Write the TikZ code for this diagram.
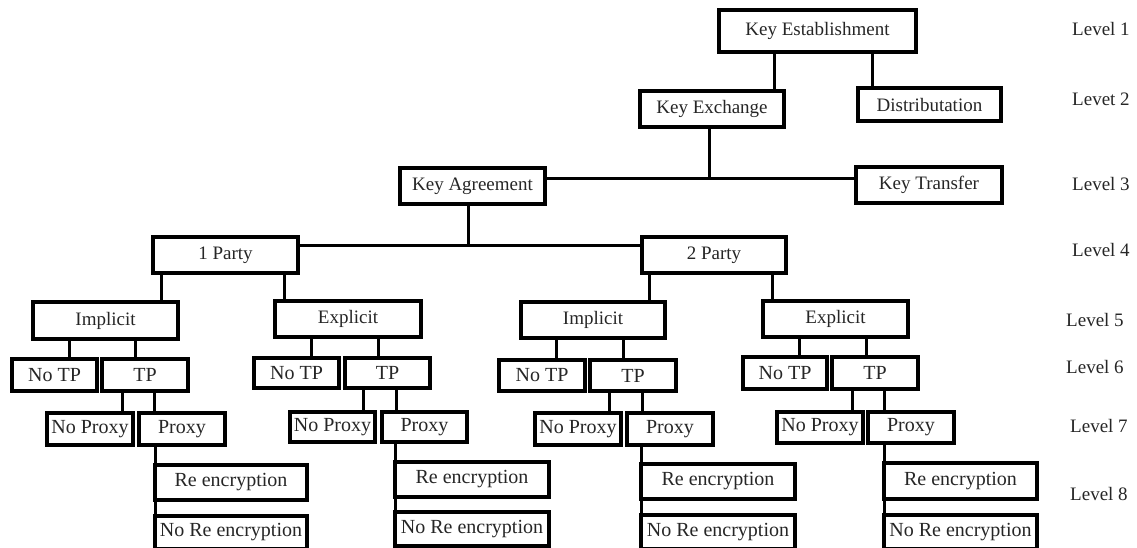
\documentclass[tikz,border=0pt]{standalone}
\usepackage{fontspec}
\setmainfont{Liberation Serif}
\newcommand\fsTop{\fontsize{19}{22}\selectfont}
\newcommand\fsLow{\fontsize{20}{23}\selectfont}
% style, name, x1, y1, x2, y2, text  (corner coordinates of the frame)
\newcommand\boxat[7]{%
  \node[#1, minimum width=\fpeval{#5-#3}pt, minimum height=\fpeval{#6-#4}pt]
    (#2) at (\fpeval{(#3+#5)/2}, \fpeval{(#4+#6)/2}) {#7};}
\begin{document}
\begin{tikzpicture}[x=1pt, y=-1pt,
  box/.style={draw=black, line width=3.5pt, inner sep=0pt, outer sep=0pt,
              fill=white, text=black!85, font=\fsTop},
  lowbox/.style={box, font=\fsLow},
  conn/.style={draw=black, line width=3pt},
  lvl/.style={anchor=west, inner sep=0pt, text=black!85, font=\fsTop}]
\fill[white] (0,0) rectangle (1137,547);
\useasboundingbox (0,0) rectangle (1137,547);

% level labels
\node[lvl] (l1) at (1072,29)  {Level 1};
\node[lvl] (l2) at (1072,99)  {Levet 2};
\node[lvl] (l3) at (1072,184) {Level 3};
\node[lvl] (l4) at (1072,250) {Level 4};
\node[lvl] (l5) at (1066,320) {Level 5};
\node[lvl] (l6) at (1066,367) {Level 6};
\node[lvl] (l7) at (1070,426) {Level 7};
\node[lvl] (l8) at (1070,494) {Level 8};

% levels 1 to 3
\boxat{box}{ke}{719}{10}{916}{52}{Key Establishment}
\boxat{box}{kx}{640}{91}{784}{127}{Key Exchange}
\boxat{box}{dist}{858}{88}{1001}{121}{Distributation}
\boxat{box}{ka}{400}{168}{545}{204}{Key Agreement}
\boxat{box}{kt}{856}{167}{1002}{203}{Key Transfer}

% level 4 and 5
\boxat{box}{pa}{153}{237}{298}{273}{1 Party}
\boxat{box}{pb}{642}{237}{786}{273}{2 Party}
\boxat{box}{ima}{33}{302}{178}{339}{Implicit}
\boxat{box}{exa}{275}{301}{421}{337}{Explicit}
\boxat{box}{imb}{521}{302}{665}{338}{Implicit}
\boxat{box}{exb}{763}{301}{908}{337}{Explicit}

% level 6
\boxat{lowbox}{ntpa}{12}{359}{97}{391}{No TP}
\boxat{lowbox}{tpa}{102}{359}{188}{391}{TP}
\boxat{lowbox}{ntpb}{254}{358}{339}{388}{No TP}
\boxat{lowbox}{tpb}{345}{358}{430}{388}{TP}
\boxat{lowbox}{ntpc}{499}{360}{585}{391}{No TP}
\boxat{lowbox}{tpc}{590}{360}{676}{391}{TP}
\boxat{lowbox}{ntpd}{743}{357}{827}{389}{No TP}
\boxat{lowbox}{tpd}{832}{357}{918}{389}{TP}

% level 7
\boxat{lowbox}{npa}{47}{413}{133}{445}{No Proxy}
\boxat{lowbox}{pxa}{139}{413}{225}{445}{Proxy}
\boxat{lowbox}{npb}{290}{412}{375}{442}{No Proxy}
\boxat{lowbox}{pxb}{382}{412}{467}{442}{Proxy}
\boxat{lowbox}{npc}{535}{413}{621}{445}{No Proxy}
\boxat{lowbox}{pxc}{627}{413}{713}{445}{Proxy}
\boxat{lowbox}{npd}{777}{412}{863}{443}{No Proxy}
\boxat{lowbox}{pxd}{868}{412}{954}{443}{Proxy}

% level 8
\boxat{lowbox}{rea}{155}{465}{307}{500}{Re encryption}
\boxat{lowbox}{nra}{155}{516}{307}{549}{No Re encryption}
\boxat{lowbox}{reb}{395}{462}{549}{497}{Re encryption}
\boxat{lowbox}{nrb}{395}{512}{549}{546}{No Re encryption}
\boxat{lowbox}{rec}{641}{464}{795}{499}{Re encryption}
\boxat{lowbox}{nrc}{641}{515}{795}{549}{No Re encryption}
\boxat{lowbox}{red}{884}{463}{1037}{499}{Re encryption}
\boxat{lowbox}{nrd}{884}{515}{1037}{549}{No Re encryption}

% connectors, top part
\draw[conn] (ke.south -| 774,0) -- (kx.north -| 774,0);
\draw[conn] (ke.south -| 872,0) -- (dist.north -| 872,0);
\coordinate (kxj) at (709,178);
\draw[conn] (kx.south -| kxj) -- (kxj);
\draw[conn] (ka.east |- kxj) -- (kt.west |- kxj);
\coordinate (kaj) at (468,245);
\draw[conn] (ka.south -| kaj) -- (kaj);
\draw[conn] (pa.east |- kaj) -- (pb.west |- kaj);

% parties to implicit / explicit
\draw[conn] (pa.south -| 161,0) -- (ima.north -| 161,0);
\draw[conn] (pa.south -| 284,0) -- (exa.north -| 284,0);
\draw[conn] (pb.south -| 649,0) -- (imb.north -| 649,0);
\draw[conn] (pb.south -| 772,0) -- (exb.north -| 772,0);

% implicit / explicit to trusted party
\draw[conn] (ima.south -| 69,0)  -- (ntpa.north -| 69,0);
\draw[conn] (ima.south -| 135,0) -- (tpa.north -| 135,0);
\draw[conn] (exa.south -| 311,0) -- (ntpb.north -| 311,0);
\draw[conn] (exa.south -| 378,0) -- (tpb.north -| 378,0);
\draw[conn] (imb.south -| 556,0) -- (ntpc.north -| 556,0);
\draw[conn] (imb.south -| 623,0) -- (tpc.north -| 623,0);
\draw[conn] (exb.south -| 799,0) -- (ntpd.north -| 799,0);
\draw[conn] (exb.south -| 866,0) -- (tpd.north -| 866,0);

% trusted party to proxy
\draw[conn] (tpa.south -| 122,0) -- (npa.north -| 122,0);
\draw[conn] (tpa.south -| 154,0) -- (pxa.north -| 154,0);
\draw[conn] (tpb.south -| 363,0) -- (npb.north -| 363,0);
\draw[conn] (tpb.south -| 396,0) -- (pxb.north -| 396,0);
\draw[conn] (tpc.south -| 609,0) -- (npc.north -| 609,0);
\draw[conn] (tpc.south -| 642,0) -- (pxc.north -| 642,0);
\draw[conn] (tpd.south -| 852,0) -- (npd.north -| 852,0);
\draw[conn] (tpd.south -| 884,0) -- (pxd.north -| 884,0);

% proxy to re-encryption choices
\draw[conn] (pxa.south -| rea.west) -- (nra.south west);
\draw[conn] (pxb.south -| reb.west) -- (nrb.south west);
\draw[conn] (pxc.south -| rec.west) -- (nrc.south west);
\draw[conn] (pxd.south -| red.west) -- (nrd.south west);
\end{tikzpicture}
\end{document}
